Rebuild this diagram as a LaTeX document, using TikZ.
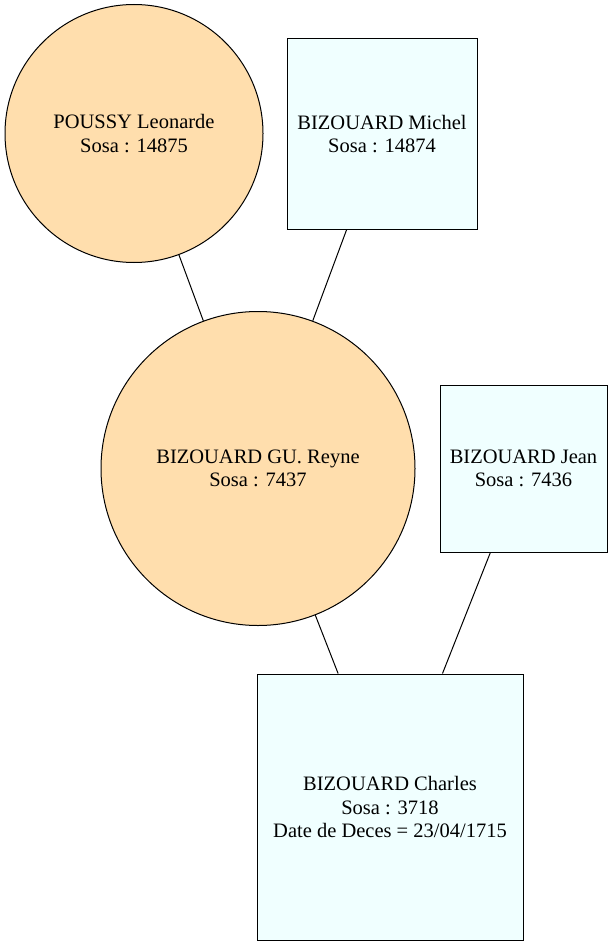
\documentclass[tikz,border=0pt]{standalone}
\usepackage{fontspec}
\setmainfont{Liberation Serif}
\definecolor{navaj}{RGB}{255,222,173}
\definecolor{azur}{RGB}{240,255,255}
\begin{document}
\begin{tikzpicture}[x=1pt,y=-1pt,
  person/.style={draw=black,line width=1pt,align=center,inner sep=0pt,
    font=\fontsize{20.5}{23.5}\selectfont},
  fem/.style={person,circle,fill=navaj,minimum size=#1},
  masc/.style={person,rectangle,fill=azur,minimum size=#1},
  link/.style={draw=black,line width=1pt}]
\useasboundingbox (0,0) rectangle (613,947);
\node[fem=258pt] (poussy) at (134,133.5) {POUSSY Leonarde\\Sosa : 14875};
\node[masc=190pt] (michel) at (382,134) {BIZOUARD Michel\\Sosa : 14874};
\node[fem=314pt] (reyne) at (258,468.5) {BIZOUARD GU. Reyne\\Sosa : 7437};
\node[masc=167pt] (jean) at (523.5,468.5) {BIZOUARD Jean\\Sosa : 7436};
\node[masc=266pt] (charles) at (390,807) {BIZOUARD Charles\\Sosa : 3718\\Date de Deces = 23/04/1715};
\draw[link] (poussy) -- (reyne);
\draw[link] (michel) -- (reyne);
\draw[link] (reyne) -- (charles);
\draw[link] (jean) -- (charles);
\end{tikzpicture}
\end{document}
